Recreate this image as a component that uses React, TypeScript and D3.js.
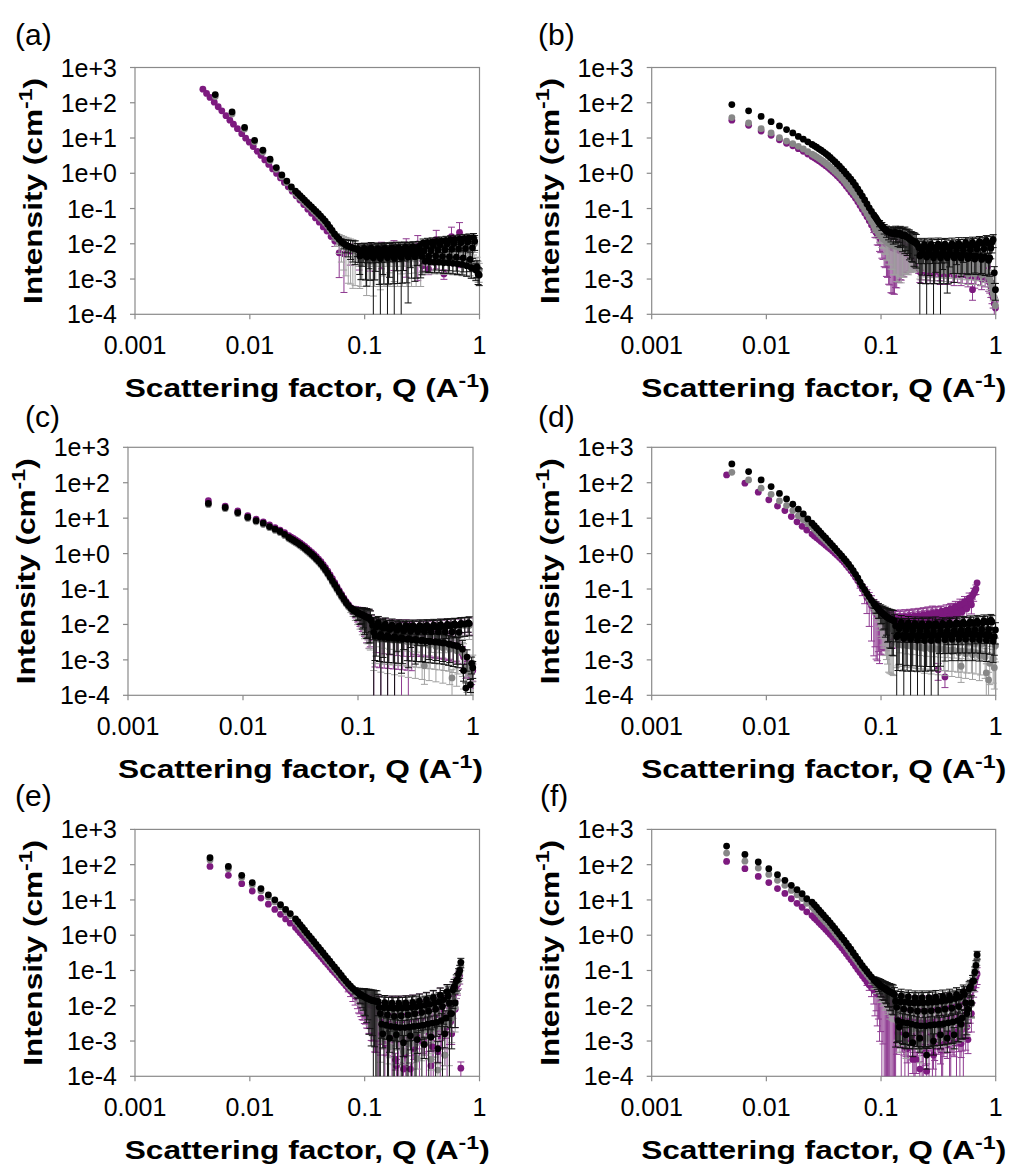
import React from "react";
import * as d3 from "d3";

// ---------- Q grids ----------
const Q_LO_STD = [0.005, 0.007, 0.009, 0.011, 0.013, 0.015, 0.017, 0.019, 0.021, 0.023];
const Q_LO_SHIFT = [0.0045, 0.0065, 0.0085, 0.0105, 0.0125, 0.0145, 0.0165, 0.0185, 0.0205, 0.0225];
const Q_HI = [
  0.025, 0.0262, 0.0274, 0.0287, 0.03, 0.0314, 0.0329, 0.0345, 0.0361, 0.0378,
  0.0396, 0.0414, 0.0434, 0.0454, 0.0476, 0.0498, 0.0521, 0.0546, 0.0572, 0.0599,
  0.0627, 0.0656, 0.0687, 0.072, 0.0754, 0.0789, 0.0826, 0.0865, 0.0906, 0.0949,
  0.0994, 0.104, 0.109, 0.114, 0.119, 0.125, 0.131, 0.137, 0.144, 0.15,
  0.158, 0.165, 0.173, 0.181, 0.189, 0.198, 0.208, 0.218, 0.228, 0.239,
  0.25, 0.262, 0.274, 0.287, 0.3, 0.315, 0.33, 0.345, 0.361, 0.378,
  0.396, 0.415, 0.434, 0.455, 0.476, 0.499, 0.522, 0.547, 0.573, 0.6,
  0.628, 0.657, 0.688, 0.721, 0.755, 0.79, 0.828, 0.867, 0.907, 0.95,
  0.995,
];
// extra, interleaved Q positions of the dense high-Q data
const Q_NOISE = [
  0.0885, 0.0927, 0.0971, 0.1017, 0.1065, 0.1115, 0.1165, 0.122, 0.128, 0.134,
  0.1405, 0.147, 0.154, 0.1615, 0.169, 0.177, 0.185, 0.1935, 0.203, 0.213,
  0.223, 0.2335, 0.2445, 0.256, 0.268, 0.2805, 0.2935, 0.3075, 0.3225, 0.3375,
  0.353, 0.3695, 0.387, 0.4055, 0.4245, 0.4445, 0.4655, 0.4875, 0.5105, 0.5345,
  0.56, 0.5865, 0.614, 0.6425, 0.6725, 0.7045, 0.738, 0.773, 0.809, 0.8475,
  0.887, 0.9285, 0.9725,
];
const Q_PURPLE_A = [
  0.0039, 0.0042, 0.0045, 0.0049, 0.0053, 0.0057, 0.0062, 0.0067, 0.0072, 0.0078,
  0.0085, 0.0092, 0.0099, 0.0107, 0.0116, 0.0125, 0.0135, 0.0146, 0.0158, 0.0171,
  0.0185, 0.02, 0.0216, 0.0234, 0.0253, 0.0273, 0.0295, 0.032, 0.0345, 0.0373,
  0.0403, 0.0436, 0.047, 0.051, 0.055, 0.06, 0.066, 0.075, 0.09, 0.11,
  0.14, 0.18, 0.23, 0.29, 0.32, 0.36, 0.42, 0.49, 0.57, 0.67,
];
const Q_STD = Q_LO_STD.concat(Q_HI);
const Q_SHIFT = Q_LO_SHIFT.concat(Q_HI);

// ---------- Panel (a) ----------
const A_PURPLE = [
  242, 184, 142, 104, 77, 59, 43, 32, 24.7, 18.4,
  13.3, 9.9, 7.6, 5.7, 4.2, 3.2, 2.39, 1.78, 1.33, 0.99,
  0.74, 0.55, 0.415, 0.31, 0.23, 0.174, 0.13, 0.096, 0.073, 0.054,
  0.041, 0.03, 0.023, 0.016, 0.012, 0.0055, 0.0052, 0.0062, 0.006, 0.006,
  0.0065, 0.007, 0.0075, 0.009, 0.0024, 0.0019, 0.013, 0.0014, 0.016, 0.021,
];
const A_PURPLE_ERR = [
  0, 0, 0, 0, 0, 0, 0, 0, 0, 0,
  0, 0, 0, 0, 0, 0, 0, 0, 0, 0,
  0, 0, 0, 0, 0, 0, 0, 0, 0, 0,
  0, 0, 0, 0.1, 0.3, 0.8, 0.92, 0.6, 0.7, 0.72,
  0.7, 0.75, 0.85, 0.9, 0.3, 0.3, 0.85, 0.3, 0.85, 0.9,
];
const A_GRAY_LO = [150, 48, 18, 7.8, 4.0, 2.25, 1.3, 0.8, 0.54, 0.37];
const A_GRAY_HI = [
  0.27, 0.235, 0.203, 0.176, 0.151, 0.131, 0.113, 0.098, 0.084, 0.073,
  0.062, 0.053, 0.045, 0.038, 0.032, 0.026, 0.021, 0.017, 0.014, 0.0118,
  0.0101, 0.009, 0.0082, 0.0076, 0.0072, 0.0068, 0.0065, 0.0064, 0.0036, 0.005,
  0.0065, 0.0034, 0.0049, 0.0066, 0.0033, 0.0048, 0.0065, 0.0033, 0.0049, 0.0066,
  0.0034, 0.005, 0.0067, 0.0034, 0.005, 0.0068, 0.0035, 0.0051, 0.007, 0.0036,
  0.0052, 0.0072, 0.0037, 0.0053, 0.0074, 0.0038, 0.0055, 0.0077, 0.0038, 0.0056,
  0.008, 0.0039, 0.0058, 0.0083, 0.0038, 0.006, 0.0087, 0.0037, 0.0062, 0.009,
  0.0036, 0.0064, 0.0094, 0.0034, 0.0066, 0.0098, 0.0031, 0.0068, 0.0103, 0.0026,
  0.0018,
];
const A_GRAY_ERR = [
  0, 0, 0, 0, 0, 0, 0, 0, 0, 0,
  0, 0, 0, 0, 0, 0, 0.15, 0.25, 0.4, 0.55,
  0.7, 0.8, 0.85, 0.9, 0.9, 0.92, 0.9, 0.6, 0.85, 0.8,
  0.6, 0.9, 0.8, 0.6, 0.9, 0.8, 0.55, 0.85, 0.75, 0.5,
  0.8, 0.7, 0.5, 0.75, 0.65, 0.45, 0.6, 0.55, 0.45, 0.6,
  0.55, 0.45, 0.6, 0.55, 0.45, 0.6, 0.55, 0.45, 0.6, 0.55,
  0.45, 0.6, 0.55, 0.45, 0.6, 0.55, 0.45, 0.6, 0.55, 0.45,
  0.6, 0.55, 0.45, 0.6, 0.55, 0.45, 0.6, 0.55, 0.45, 0.6,
  0.55,
];
const A_GRAY_NV = [
  0.0057, 0.0041, 0.0057, 0.0041, 0.0057, 0.0041, 0.0057, 0.0041, 0.0057, 0.0041,
  0.0057, 0.0041, 0.0057, 0.0041, 0.0057, 0.0041, 0.0057, 0.0041, 0.0057, 0.0041,
  0.0058, 0.0041, 0.0058, 0.0041, 0.0059, 0.0041, 0.0059, 0.0041, 0.0075, 0.0035,
  0.0076, 0.0035, 0.0078, 0.0035, 0.008, 0.0035, 0.0082, 0.0034, 0.0084, 0.0034,
  0.0086, 0.0033, 0.0088, 0.0032, 0.009, 0.0031, 0.0092, 0.003, 0.0094, 0.0028,
  0.0096, 0.0025, 0.002,
];
const A_GRAY_NE = [
  0.6, 0.85, 0.6, 0.85, 0.6, 0.85, 0.6, 0.85, 0.6, 0.85,
  0.6, 0.85, 0.6, 0.85, 0.6, 0.85, 0.6, 0.85, 0.6, 0.85,
  0.6, 0.85, 0.6, 0.85, 0.6, 0.85, 0.6, 0.85, 0.5, 0.6,
  0.5, 0.6, 0.5, 0.6, 0.5, 0.6, 0.5, 0.6, 0.5, 0.6,
  0.5, 0.6, 0.5, 0.6, 0.5, 0.6, 0.5, 0.6, 0.5, 0.6,
  0.5, 0.6, 0.6,
];
const A_BLACK_LO = [171, 55, 20, 8.6, 4.5, 2.5, 1.45, 0.9, 0.6, 0.41];
const A_BLACK_HI = [
  0.31, 0.268, 0.231, 0.2, 0.172, 0.149, 0.128, 0.111, 0.096, 0.083,
  0.071, 0.061, 0.052, 0.044, 0.036, 0.029, 0.024, 0.019, 0.016, 0.0135,
  0.0115, 0.0102, 0.0092, 0.0085, 0.008, 0.0076, 0.0073, 0.0072, 0.0045, 0.0058,
  0.0074, 0.0042, 0.0056, 0.0075, 0.004, 0.0055, 0.0073, 0.0038, 0.0054, 0.0074,
  0.004, 0.0056, 0.0076, 0.0039, 0.0057, 0.0077, 0.0041, 0.0058, 0.0079, 0.0042,
  0.006, 0.0081, 0.0043, 0.0061, 0.0084, 0.0044, 0.0063, 0.0087, 0.0044, 0.0064,
  0.009, 0.0045, 0.0066, 0.0094, 0.0044, 0.0068, 0.0098, 0.0043, 0.007, 0.0102,
  0.0042, 0.0072, 0.0107, 0.004, 0.0074, 0.0112, 0.0036, 0.0077, 0.0118, 0.0022,
  0.0013,
];
const A_BLACK_ERR = [
  0, 0, 0, 0, 0, 0, 0, 0, 0, 0,
  0, 0, 0, 0, 0, 0, 0, 0, 0.1, 0.15,
  0.2, 0.3, 0.4, 0.5, 0.55, 0.6, 0.65, 0.4, 0.7, 0.6,
  0.4, 0.85, 0.65, 0.45, 1.05, 0.7, 0.45, 1.1, 0.75, 0.45,
  1.05, 0.8, 0.45, 1.1, 0.7, 0.45, 1.0, 0.7, 0.4, 0.95,
  0.65, 0.4, 0.8, 0.6, 0.4, 0.7, 0.55, 0.4, 0.65, 0.55,
  0.4, 0.6, 0.5, 0.4, 0.6, 0.5, 0.4, 0.6, 0.5, 0.4,
  0.6, 0.5, 0.45, 0.6, 0.5, 0.45, 0.55, 0.5, 0.45, 0.5,
  0.5,
];
const A_BLACK_NV = [
  0.0066, 0.0048, 0.0065, 0.0047, 0.0064, 0.0046, 0.0064, 0.0047, 0.0065, 0.0047,
  0.0066, 0.0048, 0.0067, 0.0048, 0.0068, 0.0049, 0.0069, 0.005, 0.007, 0.0051,
  0.0072, 0.0052, 0.0073, 0.0053, 0.0075, 0.0053, 0.0077, 0.0054, 0.0105, 0.0032,
  0.011, 0.0031, 0.0113, 0.003, 0.0117, 0.003, 0.012, 0.0029, 0.0125, 0.0029,
  0.013, 0.0028, 0.0134, 0.0027, 0.0138, 0.0026, 0.0142, 0.0024, 0.0146, 0.0021,
  0.015, 0.0018, 0.0014,
];
const A_BLACK_NE = [
  0.55, 0.8, 0.55, 0.8, 0.55, 0.8, 0.55, 0.8, 0.55, 0.85,
  0.55, 0.85, 0.55, 0.85, 0.55, 0.85, 0.55, 0.85, 0.55, 0.85,
  0.55, 0.85, 0.5, 0.8, 0.5, 0.8, 0.5, 0.8, 0.3, 0.5,
  0.3, 0.5, 0.3, 0.5, 0.3, 0.5, 0.3, 0.5, 0.3, 0.5,
  0.3, 0.5, 0.3, 0.5, 0.3, 0.5, 0.3, 0.5, 0.3, 0.5,
  0.3, 0.5, 0.5,
];

// ---------- Panel (b) ----------
const B_PURPLE_LO = [32, 23, 15.8, 11.9, 8.9, 7.1, 6.0, 5.0, 4.2, 3.5];
const B_PURPLE_HI = [
  3.0, 2.75, 2.5, 2.27, 2.05, 1.84, 1.64, 1.45, 1.28, 1.12,
  0.98, 0.85, 0.73, 0.62, 0.52, 0.43, 0.36, 0.29, 0.24, 0.195,
  0.155, 0.122, 0.096, 0.075, 0.058, 0.045, 0.034, 0.026, 0.021, 0.0165,
  0.014, 0.012, 0.0105, 0.0093, 0.0085, 0.0079, 0.0074, 0.007, 0.0066, 0.0062,
  0.0058, 0.0054, 0.005, 0.0046, 0.0042, 0.0039, 0.0036, 0.0016, 0.0025, 0.0035,
  0.0015, 0.0024, 0.0034, 0.0015, 0.0024, 0.0034, 0.0014, 0.0023, 0.0033, 0.0014,
  0.0023, 0.0033, 0.0013, 0.0022, 0.0032, 0.0013, 0.0022, 0.0032, 0.0012, 0.0021,
  0.0005, 0.0011, 0.002, 0.003, 0.001, 0.0019, 0.003, 0.0009, 0.0006, 0.0003,
  0.00015,
];
const B_PURPLE_ERR = [
  0, 0, 0, 0, 0, 0, 0, 0, 0, 0,
  0, 0, 0, 0, 0, 0, 0, 0, 0, 0,
  0, 0, 0, 0, 0, 0, 0.12, 0.2, 0.3, 0.45,
  0.6, 0.7, 0.8, 0.88, 0.92, 0.95, 0.95, 0.92, 0.88, 0.85,
  0.8, 0.75, 0.7, 0.65, 0.6, 0.55, 0.5, 0.5, 0.5, 0.5,
  0.5, 0.5, 0.5, 0.5, 0.5, 0.5, 0.5, 0.5, 0.5, 0.5,
  0.5, 0.5, 0.5, 0.5, 0.5, 0.5, 0.5, 0.5, 0.5, 0.5,
  0.5, 0.5, 0.5, 0.5, 0.5, 0.5, 0.5, 0.5, 0.5, 0.5,
  0.5,
];
const B_PURPLE_NV = [
  0.0234, 0.0186, 0.0152, 0.013, 0.0112, 0.0099, 0.0089, 0.0082, 0.0076, 0.0072,
  0.0068, 0.0064, 0.006, 0.0056, 0.0052, 0.0048, 0.0044, 0.004, 0.0037, 0.0029,
  0.0019, 0.0029, 0.0019, 0.0028, 0.0018, 0.0028, 0.0018, 0.0028, 0.0018, 0.0027,
  0.0017, 0.0027, 0.0017, 0.0027, 0.0016, 0.0026, 0.0016, 0.0026, 0.0015, 0.0026,
  0.0015, 0.0025, 0.0014, 0.0025, 0.0014, 0.0024, 0.0013, 0.0024, 0.0012, 0.0022,
  0.0008, 0.0004, 0.0002,
];
const B_PURPLE_NE = [
  0.35, 0.5, 0.6, 0.7, 0.8, 0.88, 0.92, 0.95, 0.95, 0.92,
  0.88, 0.85, 0.8, 0.75, 0.7, 0.65, 0.6, 0.55, 0.5, 0.5,
  0.5, 0.5, 0.5, 0.5, 0.5, 0.5, 0.5, 0.5, 0.5, 0.5,
  0.5, 0.5, 0.5, 0.5, 0.5, 0.5, 0.5, 0.5, 0.5, 0.5,
  0.5, 0.5, 0.5, 0.5, 0.5, 0.5, 0.5, 0.5, 0.5, 0.5,
  0.5, 0.5, 0.5,
];
const B_GRAY_LO = [38, 26.7, 18.4, 13.9, 10.2, 8.2, 6.9, 5.8, 4.9, 4.1];
const B_GRAY_HI = [
  3.5, 3.2, 2.93, 2.65, 2.4, 2.16, 1.93, 1.7, 1.5, 1.32,
  1.15, 1.0, 0.86, 0.74, 0.62, 0.51, 0.42, 0.35, 0.29, 0.235,
  0.19, 0.15, 0.118, 0.092, 0.071, 0.055, 0.042, 0.033, 0.026, 0.02,
  0.017, 0.0145, 0.0125, 0.011, 0.01, 0.0093, 0.0088, 0.0085, 0.008, 0.0078,
  0.0075, 0.007, 0.0066, 0.0062, 0.0058, 0.0052, 0.0045, 0.002, 0.003, 0.0043,
  0.0019, 0.0029, 0.0042, 0.0018, 0.0028, 0.0041, 0.0017, 0.0028, 0.0041, 0.0017,
  0.0027, 0.004, 0.0016, 0.0027, 0.004, 0.0015, 0.0026, 0.004, 0.0014, 0.0026,
  0.0041, 0.0014, 0.0026, 0.0042, 0.0013, 0.0025, 0.0042, 0.0012, 0.0008, 0.0004,
  0.00018,
];
const B_GRAY_ERR = [
  0, 0, 0, 0, 0, 0, 0, 0, 0, 0,
  0, 0, 0, 0, 0, 0, 0, 0, 0, 0,
  0, 0, 0, 0, 0, 0, 0.1, 0.15, 0.2, 0.3,
  0.4, 0.5, 0.6, 0.7, 0.75, 0.8, 0.85, 0.9, 0.85, 0.9,
  0.85, 0.8, 0.8, 0.75, 0.7, 0.7, 0.4, 0.5, 0.45, 0.4,
  0.5, 0.45, 0.4, 0.5, 0.45, 0.4, 0.5, 0.45, 0.4, 0.5,
  0.45, 0.4, 0.5, 0.45, 0.4, 0.5, 0.45, 0.4, 0.5, 0.45,
  0.4, 0.5, 0.45, 0.4, 0.5, 0.45, 0.4, 0.5, 0.45, 0.4,
  0.5,
];
const B_GRAY_NV = [
  0.029, 0.0228, 0.0184, 0.0157, 0.0135, 0.0117, 0.0105, 0.0096, 0.009, 0.0086,
  0.0082, 0.0079, 0.0076, 0.0072, 0.0068, 0.0064, 0.006, 0.0055, 0.0048, 0.0036,
  0.0023, 0.0036, 0.0023, 0.0035, 0.0022, 0.0035, 0.0022, 0.0035, 0.0022, 0.0034,
  0.0021, 0.0034, 0.0021, 0.0034, 0.0021, 0.0034, 0.002, 0.0034, 0.002, 0.0034,
  0.0019, 0.0035, 0.0019, 0.0035, 0.0018, 0.0035, 0.0018, 0.0034, 0.0016, 0.0028,
  0.001, 0.0006, 0.0003,
];
const B_GRAY_NE = [
  0.2, 0.3, 0.4, 0.5, 0.6, 0.7, 0.75, 0.8, 0.85, 0.85,
  0.9, 0.85, 0.85, 0.8, 0.8, 0.75, 0.7, 0.7, 0.6, 0.45,
  0.5, 0.45, 0.5, 0.45, 0.5, 0.45, 0.5, 0.45, 0.5, 0.45,
  0.5, 0.45, 0.5, 0.45, 0.5, 0.45, 0.5, 0.45, 0.5, 0.45,
  0.5, 0.45, 0.5, 0.45, 0.5, 0.45, 0.5, 0.45, 0.5, 0.45,
  0.5, 0.45, 0.5,
];
const B_BLACK_LO = [89, 59, 41, 29, 22, 17.3, 13.9, 11.1, 9.3, 7.8];
const B_BLACK_HI = [
  6.6, 6.0, 5.5, 4.95, 4.5, 4.05, 3.62, 3.2, 2.8, 2.45,
  2.12, 1.83, 1.58, 1.35, 1.14, 0.96, 0.81, 0.68, 0.56, 0.45,
  0.36, 0.285, 0.225, 0.175, 0.135, 0.105, 0.083, 0.066, 0.053, 0.042,
  0.035, 0.029, 0.025, 0.022, 0.021, 0.02, 0.0205, 0.019, 0.02, 0.018,
  0.018, 0.016, 0.015, 0.013, 0.012, 0.011, 0.0095, 0.0045, 0.0065, 0.0095,
  0.0042, 0.0063, 0.0096, 0.004, 0.0062, 0.0097, 0.004, 0.0062, 0.0098, 0.004,
  0.0063, 0.01, 0.004, 0.0064, 0.0103, 0.0039, 0.0066, 0.0107, 0.0038, 0.0068,
  0.011, 0.0037, 0.007, 0.0115, 0.0036, 0.0072, 0.0122, 0.0034, 0.0075, 0.013,
  0.0005,
];
const B_BLACK_ERR = [
  0, 0, 0, 0, 0, 0, 0, 0, 0, 0,
  0, 0, 0, 0, 0, 0, 0, 0, 0, 0,
  0, 0, 0, 0, 0, 0, 0, 0, 0, 0,
  0.06, 0.1, 0.15, 0.2, 0.25, 0.3, 0.35, 0.4, 0.45, 0.5,
  0.55, 0.6, 0.65, 0.7, 0.75, 0.8, 0.5, 1.05, 0.8, 0.5,
  1.1, 0.8, 0.5, 1.05, 0.75, 0.5, 1.0, 0.7, 0.45, 0.9,
  0.65, 0.45, 0.8, 0.6, 0.45, 0.7, 0.55, 0.4, 0.65, 0.5,
  0.4, 0.6, 0.5, 0.4, 0.6, 0.5, 0.4, 0.6, 0.5, 0.4,
  0.5,
];
const B_BLACK_NV = [
  0.059, 0.047, 0.038, 0.032, 0.027, 0.0235, 0.0215, 0.0205, 0.0195, 0.021,
  0.0185, 0.0195, 0.017, 0.0175, 0.0155, 0.014, 0.0125, 0.0115, 0.0102, 0.0078,
  0.005, 0.0078, 0.0049, 0.0078, 0.0049, 0.0079, 0.0049, 0.008, 0.0049, 0.0081,
  0.0049, 0.0082, 0.0049, 0.0084, 0.0048, 0.0086, 0.0048, 0.0088, 0.0047, 0.009,
  0.0047, 0.0092, 0.0046, 0.0095, 0.0045, 0.0098, 0.0044, 0.0102, 0.0042, 0.0106,
  0.004, 0.011, 0.0015,
];
const B_BLACK_NE = [
  0.1, 0.15, 0.2, 0.25, 0.3, 0.35, 0.4, 0.45, 0.5, 0.5,
  0.55, 0.6, 0.65, 0.7, 0.7, 0.75, 0.75, 0.8, 0.8, 0.65,
  0.85, 0.65, 0.85, 0.65, 0.85, 0.65, 0.85, 0.65, 0.85, 0.65,
  0.85, 0.65, 0.85, 0.5, 0.7, 0.5, 0.7, 0.5, 0.7, 0.5,
  0.7, 0.5, 0.7, 0.5, 0.7, 0.5, 0.7, 0.5, 0.7, 0.5,
  0.7, 0.5, 0.5,
];

// ---------- Panel (c) ----------
const C_PURPLE_LO = [31, 22, 16, 11.8, 9.4, 7.9, 6.4, 5.4, 4.6, 3.9];
const C_PURPLE_HI = [
  3.2, 2.92, 2.67, 2.43, 2.22, 2.0, 1.8, 1.6, 1.41, 1.24,
  1.08, 0.95, 0.82, 0.7, 0.59, 0.49, 0.4, 0.32, 0.25, 0.195,
  0.152, 0.117, 0.09, 0.07, 0.055, 0.044, 0.036, 0.03, 0.026, 0.0235,
  0.0212, 0.0195, 0.018, 0.0165, 0.0152, 0.0142, 0.012, 0.0055, 0.008, 0.0108,
  0.005, 0.0074, 0.0098, 0.0046, 0.0069, 0.0092, 0.0043, 0.0066, 0.009, 0.004,
  0.0063, 0.009, 0.0038, 0.0062, 0.009, 0.0036, 0.0061, 0.0091, 0.0034, 0.006,
  0.0092, 0.0032, 0.006, 0.0094, 0.003, 0.006, 0.0096, 0.0028, 0.006, 0.0098,
  0.0026, 0.0059, 0.0101, 0.0023, 0.0058, 0.0105, 0.0012, 0.0006, 0.0108, 0.0004,
  0.0005,
];
const C_PURPLE_ERR = [
  0, 0, 0, 0, 0, 0, 0, 0, 0, 0,
  0, 0, 0, 0, 0, 0, 0, 0, 0, 0,
  0, 0, 0, 0, 0, 0, 0.1, 0.15, 0.25, 0.35,
  0.45, 0.55, 0.65, 0.72, 0.8, 0.85, 0.5, 1.05, 0.8, 0.5,
  1.05, 0.8, 0.5, 1.05, 0.8, 0.5, 1.05, 0.8, 0.5, 1.05,
  0.8, 0.5, 1.05, 0.8, 0.45, 0.6, 0.5, 0.45, 0.6, 0.5,
  0.45, 0.6, 0.5, 0.45, 0.6, 0.5, 0.45, 0.6, 0.5, 0.45,
  0.6, 0.5, 0.45, 0.6, 0.5, 0.45, 0.6, 0.5, 0.45, 0.6,
  0.5,
];
const C_PURPLE_NV = [
  0.028, 0.0247, 0.0223, 0.0203, 0.0187, 0.0172, 0.0158, 0.0147, 0.013, 0.0088,
  0.0042, 0.0085, 0.004, 0.0082, 0.0039, 0.008, 0.0038, 0.0079, 0.0037, 0.0078,
  0.0036, 0.0078, 0.0035, 0.0079, 0.0034, 0.008, 0.0033, 0.008, 0.0032, 0.0081,
  0.0031, 0.0082, 0.003, 0.0083, 0.0029, 0.0084, 0.0028, 0.0086, 0.0027, 0.0088,
  0.0026, 0.009, 0.0024, 0.0092, 0.0022, 0.0094, 0.002, 0.0096, 0.0015, 0.0098,
  0.0008, 0.01, 0.0005,
];
const C_PURPLE_NE = [
  0.12, 0.2, 0.3, 0.4, 0.5, 0.6, 0.68, 0.75, 0.82, 0.6,
  0.85, 0.6, 0.85, 0.6, 0.85, 0.6, 0.85, 0.6, 0.85, 0.6,
  0.85, 0.6, 0.85, 0.6, 0.85, 0.6, 0.85, 0.5, 0.6, 0.5,
  0.6, 0.5, 0.6, 0.5, 0.6, 0.5, 0.6, 0.5, 0.6, 0.5,
  0.6, 0.5, 0.6, 0.5, 0.6, 0.5, 0.6, 0.5, 0.6, 0.5,
  0.6, 0.5, 0.6,
];
const C_GRAY_LO = [24, 18.5, 13.4, 9.8, 7.9, 6.6, 5.4, 4.5, 3.9, 3.2];
const C_GRAY_HI = [
  2.62, 2.4, 2.19, 2.0, 1.82, 1.64, 1.47, 1.31, 1.15, 1.01,
  0.88, 0.77, 0.66, 0.57, 0.48, 0.395, 0.32, 0.255, 0.2, 0.155,
  0.123, 0.096, 0.075, 0.059, 0.047, 0.038, 0.031, 0.027, 0.024, 0.0215,
  0.0198, 0.0184, 0.017, 0.0158, 0.0147, 0.0138, 0.0115, 0.005, 0.0078, 0.0103,
  0.0045, 0.0071, 0.0094, 0.0041, 0.0066, 0.0088, 0.0038, 0.0062, 0.0086, 0.0035,
  0.0059, 0.0085, 0.0032, 0.0057, 0.0085, 0.003, 0.0055, 0.0085, 0.0028, 0.00068,
  0.0086, 0.0026, 0.0054, 0.0088, 0.0024, 0.0053, 0.009, 0.0022, 0.0053, 0.0092,
  0.002, 0.00031, 0.0095, 0.0018, 0.0052, 0.0098, 0.0015, 0.0005, 0.01, 0.0004,
  0.0008,
];
const C_GRAY_ERR = [
  0, 0, 0, 0, 0, 0, 0, 0, 0, 0,
  0, 0, 0, 0, 0, 0, 0, 0, 0, 0,
  0, 0, 0, 0, 0, 0, 0.12, 0.2, 0.3, 0.4,
  0.5, 0.6, 0.7, 0.75, 0.8, 0.85, 0.5, 0.9, 0.7, 0.5,
  0.9, 0.7, 0.5, 0.9, 0.7, 0.5, 0.9, 0.7, 0.5, 0.9,
  0.7, 0.5, 0.9, 0.7, 0.5, 0.9, 0.7, 0.5, 0.9, 0.7,
  0.5, 0.9, 0.7, 0.5, 0.9, 0.7, 0.5, 0.9, 0.7, 0.5,
  0.9, 0.7, 0.5, 0.9, 0.7, 0.5, 0.9, 0.7, 0.5, 0.9,
  0.7,
];
const C_GRAY_NV = [
  0.0255, 0.0227, 0.0206, 0.0191, 0.0177, 0.0164, 0.0152, 0.0142, 0.0126, 0.0082,
  0.004, 0.008, 0.0039, 0.0079, 0.0038, 0.0078, 0.0037, 0.0078, 0.0036, 0.0078,
  0.0035, 0.0079, 0.0034, 0.008, 0.0033, 0.008, 0.0032, 0.0081, 0.0031, 0.0082,
  0.003, 0.0083, 0.0029, 0.0084, 0.0028, 0.0085, 0.0027, 0.0086, 0.0026, 0.0087,
  0.0025, 0.0088, 0.0024, 0.009, 0.0022, 0.0091, 0.002, 0.0092, 0.0017, 0.0093,
  0.0006, 0.0094, 0.0005,
];
const C_GRAY_NE = [
  0.15, 0.25, 0.35, 0.45, 0.55, 0.65, 0.72, 0.8, 0.85, 0.6,
  0.8, 0.6, 0.8, 0.6, 0.8, 0.6, 0.8, 0.6, 0.8, 0.6,
  0.8, 0.6, 0.8, 0.6, 0.8, 0.6, 0.8, 0.6, 0.8, 0.6,
  0.8, 0.6, 0.8, 0.6, 0.8, 0.6, 0.8, 0.6, 0.8, 0.6,
  0.8, 0.6, 0.8, 0.6, 0.8, 0.6, 0.8, 0.6, 0.8, 0.6,
  0.8, 0.6, 0.8,
];
const C_BLACK_LO = [26, 20, 14.4, 10.6, 8.5, 7.2, 5.8, 4.9, 4.2, 3.5];
const C_BLACK_HI = [
  2.85, 2.6, 2.38, 2.17, 1.98, 1.78, 1.6, 1.42, 1.25, 1.1,
  0.96, 0.84, 0.72, 0.62, 0.52, 0.43, 0.35, 0.28, 0.22, 0.17,
  0.135, 0.105, 0.082, 0.065, 0.051, 0.041, 0.034, 0.029, 0.026, 0.0235,
  0.0215, 0.02, 0.0185, 0.0172, 0.016, 0.015, 0.0125, 0.006, 0.0085, 0.0112,
  0.0052, 0.0078, 0.0102, 0.0048, 0.0072, 0.0095, 0.0045, 0.0068, 0.0093, 0.0042,
  0.0065, 0.0092, 0.004, 0.0064, 0.0092, 0.0038, 0.0063, 0.0093, 0.0036, 0.0063,
  0.0094, 0.0034, 0.0062, 0.0096, 0.0032, 0.0062, 0.0098, 0.003, 0.0062, 0.01,
  0.0028, 0.0062, 0.0103, 0.0025, 0.006, 0.0107, 0.0005, 0.00016, 0.011, 0.0002,
  0.0006,
];
const C_BLACK_ERR = [
  0, 0, 0, 0, 0, 0, 0, 0, 0, 0,
  0, 0, 0, 0, 0, 0, 0, 0, 0, 0,
  0, 0, 0, 0, 0, 0, 0.1, 0.15, 0.2, 0.3,
  0.4, 0.5, 0.6, 0.7, 0.75, 0.8, 0.5, 1.05, 0.85, 0.5,
  1.1, 0.85, 0.5, 1.05, 0.8, 0.5, 1.0, 0.75, 0.45, 0.9,
  0.7, 0.45, 0.85, 0.65, 0.45, 0.8, 0.6, 0.45, 0.75, 0.6,
  0.45, 0.7, 0.55, 0.45, 0.7, 0.55, 0.45, 0.7, 0.55, 0.45,
  0.7, 0.55, 0.45, 0.7, 0.55, 0.45, 0.5, 0.4, 0.45, 0.4,
  0.5,
];
const C_BLACK_NV = [
  0.0275, 0.0247, 0.0225, 0.0207, 0.0192, 0.0178, 0.0166, 0.0155, 0.0137, 0.0095,
  0.0048, 0.009, 0.0045, 0.0085, 0.0043, 0.0082, 0.0042, 0.008, 0.0041, 0.0079,
  0.004, 0.0078, 0.0039, 0.0078, 0.0038, 0.0079, 0.0037, 0.008, 0.0036, 0.008,
  0.0035, 0.0081, 0.0034, 0.0082, 0.0033, 0.0083, 0.0032, 0.0085, 0.0031, 0.0087,
  0.003, 0.0089, 0.0028, 0.0092, 0.0026, 0.0095, 0.0024, 0.0098, 0.002, 0.0102,
  0.0012, 0.0106, 0.0008,
];
const C_BLACK_NE = [
  0.12, 0.2, 0.25, 0.35, 0.45, 0.55, 0.65, 0.72, 0.78, 0.6,
  0.8, 0.6, 0.8, 0.6, 0.8, 0.6, 0.8, 0.6, 0.8, 0.6,
  0.8, 0.6, 0.8, 0.55, 0.75, 0.55, 0.75, 0.55, 0.75, 0.55,
  0.75, 0.55, 0.75, 0.55, 0.75, 0.55, 0.75, 0.55, 0.75, 0.55,
  0.75, 0.55, 0.75, 0.55, 0.75, 0.55, 0.75, 0.55, 0.75, 0.55,
  0.6, 0.55, 0.5,
];

// ---------- Panel (d) ----------
const D_PURPLE_LO = [166, 97, 54, 33, 22, 16.4, 11.1, 7.9, 5.9, 4.6];
const D_PURPLE_HI = [
  3.55, 3.15, 2.8, 2.48, 2.2, 1.95, 1.72, 1.52, 1.34, 1.18,
  1.03, 0.9, 0.78, 0.67, 0.57, 0.48, 0.4, 0.33, 0.27, 0.215,
  0.17, 0.132, 0.1, 0.077, 0.058, 0.044, 0.034, 0.026, 0.021, 0.017,
  0.0145, 0.013, 0.0122, 0.0118, 0.0125, 0.0105, 0.0135, 0.011, 0.0138, 0.0112,
  0.014, 0.0115, 0.0145, 0.012, 0.015, 0.0125, 0.0158, 0.013, 0.0165, 0.0135,
  0.0172, 0.014, 0.018, 0.015, 0.019, 0.00053, 0.021, 0.017, 0.00033, 0.019,
  0.025, 0.021, 0.028, 0.024, 0.032, 0.028, 0.038, 0.034, 0.048, 0.045,
  0.065, 0.085, 0.15,
];
const D_PURPLE_ERR = [
  0, 0, 0, 0, 0, 0, 0, 0, 0, 0,
  0, 0, 0, 0, 0, 0, 0, 0, 0, 0,
  0.1, 0.2, 0.35, 0.5, 0.65, 0.8, 0.9, 0.95, 0.95, 0.9,
  0.9, 0.85, 0.85, 0.8, 0.7, 0.8, 0.7, 0.8, 0.7, 0.8,
  0.7, 0.8, 0.7, 0.8, 0.7, 0.8, 0.7, 0.8, 0.7, 0.8,
  0.7, 0.8, 0.7, 0.8, 0.7, 0.5, 0.55, 0.5, 0.5, 0.5,
  0.45, 0.45, 0.4, 0.4, 0.35, 0.35, 0.3, 0.3, 0.25, 0.25,
  0.2, 0.2, 0.15,
];
const D_PURPLE_NV = [
  0.0234, 0.0189, 0.0157, 0.0137, 0.0126, 0.012, 0.0121, 0.0155, 0.0095, 0.0157,
  0.0097, 0.016, 0.0099, 0.0163, 0.01, 0.0167, 0.0103, 0.0172, 0.0107, 0.0178,
  0.011, 0.0185, 0.0116, 0.0195, 0.0122, 0.0206, 0.013, 0.022, 0.0138, 0.0236,
  0.0148, 0.0255, 0.016, 0.028, 0.0175, 0.032, 0.0198, 0.037, 0.023, 0.044,
  0.028, 0.055, 0.036, 0.075, 0.1,
];
const D_PURPLE_NE = [
  0.9, 0.95, 0.95, 0.9, 0.85, 0.85, 0.8, 0.6, 0.7, 0.6,
  0.7, 0.6, 0.7, 0.6, 0.7, 0.6, 0.7, 0.6, 0.7, 0.6,
  0.7, 0.6, 0.7, 0.6, 0.7, 0.6, 0.7, 0.4, 0.45, 0.4,
  0.45, 0.4, 0.45, 0.4, 0.45, 0.4, 0.45, 0.4, 0.45, 0.4,
  0.45, 0.4, 0.45, 0.4, 0.3,
];
const D_GRAY_LO = [197, 120, 70, 47, 30.7, 22.6, 16.4, 11.6, 9.0, 7.0];
const D_GRAY_HI = [
  5.7, 4.9, 4.2, 3.6, 3.1, 2.65, 2.3, 1.98, 1.72, 1.5,
  1.3, 1.12, 0.96, 0.82, 0.69, 0.57, 0.47, 0.385, 0.31, 0.25,
  0.195, 0.15, 0.115, 0.088, 0.067, 0.051, 0.039, 0.03, 0.024, 0.019,
  0.0155, 0.013, 0.011, 0.0095, 0.0085, 0.0077, 0.0068, 0.003, 0.0045, 0.0062,
  0.0027, 0.0042, 0.0058, 0.0025, 0.004, 0.0056, 0.0023, 0.0038, 0.0055, 0.0021,
  0.0036, 0.0054, 0.002, 0.0035, 0.0053, 0.0019, 0.0034, 0.0052, 0.0018, 0.0033,
  0.0052, 0.0017, 0.0032, 0.0052, 0.0016, 0.00066, 0.0051, 0.0015, 0.003, 0.0051,
  0.0014, 0.0029, 0.005, 0.0013, 0.0028, 0.005, 0.00043, 0.00027, 0.0048, 0.0011,
  0.0025,
];
const D_GRAY_ERR = [
  0, 0, 0, 0, 0, 0, 0, 0, 0, 0,
  0, 0, 0, 0, 0, 0, 0, 0, 0, 0,
  0, 0, 0, 0, 0, 0, 0.15, 0.25, 0.4, 0.55,
  0.7, 0.8, 0.88, 0.92, 0.95, 0.95, 0.5, 0.8, 0.65, 0.5,
  0.8, 0.65, 0.5, 0.8, 0.65, 0.5, 0.8, 0.65, 0.5, 0.8,
  0.65, 0.5, 0.8, 0.65, 0.5, 0.8, 0.65, 0.5, 0.8, 0.65,
  0.5, 0.8, 0.65, 0.5, 0.8, 0.65, 0.5, 0.8, 0.65, 0.5,
  0.8, 0.65, 0.5, 0.8, 0.65, 0.5, 0.8, 0.65, 0.5, 0.8,
  0.65,
];
const D_GRAY_NV = [
  0.0268, 0.0214, 0.0172, 0.0142, 0.012, 0.0102, 0.009, 0.0081, 0.0072, 0.0052,
  0.0027, 0.005, 0.0026, 0.0049, 0.0025, 0.0048, 0.0024, 0.0047, 0.0023, 0.0046,
  0.0022, 0.0045, 0.0022, 0.0045, 0.0021, 0.0044, 0.0021, 0.0044, 0.002, 0.0043,
  0.002, 0.0043, 0.0019, 0.0042, 0.0019, 0.0042, 0.0018, 0.0041, 0.0018, 0.0041,
  0.0017, 0.004, 0.0017, 0.004, 0.0016, 0.0039, 0.0015, 0.0038, 0.0012, 0.0036,
  0.0008, 0.0034, 0.0006,
];
const D_GRAY_NE = [
  0.3, 0.45, 0.6, 0.72, 0.82, 0.9, 0.95, 0.95, 0.95, 0.55,
  0.75, 0.55, 0.75, 0.55, 0.75, 0.55, 0.75, 0.55, 0.75, 0.55,
  0.75, 0.55, 0.75, 0.55, 0.75, 0.55, 0.75, 0.55, 0.75, 0.55,
  0.75, 0.55, 0.75, 0.55, 0.75, 0.55, 0.75, 0.55, 0.75, 0.55,
  0.75, 0.55, 0.75, 0.55, 0.75, 0.55, 0.75, 0.55, 0.75, 0.55,
  0.75, 0.55, 0.75,
];
const D_BLACK_LO = [339, 206, 120, 78, 50, 35, 24.7, 17.9, 13.2, 9.5];
const D_BLACK_HI = [
  7.2, 6.1, 5.2, 4.45, 3.8, 3.23, 2.75, 2.33, 1.98, 1.68,
  1.42, 1.2, 1.02, 0.86, 0.72, 0.6, 0.5, 0.41, 0.33, 0.26,
  0.205, 0.155, 0.12, 0.095, 0.075, 0.06, 0.048, 0.039, 0.032, 0.027,
  0.023, 0.02, 0.0175, 0.0158, 0.0145, 0.0135, 0.0125, 0.0045, 0.0075, 0.0115,
  0.004, 0.007, 0.0108, 0.0038, 0.0068, 0.0105, 0.0036, 0.0066, 0.0104, 0.0035,
  0.0065, 0.0104, 0.0035, 0.0065, 0.0105, 0.0036, 0.0066, 0.0107, 0.0037, 0.0067,
  0.011, 0.0038, 0.0068, 0.0113, 0.0038, 0.0069, 0.0116, 0.0038, 0.007, 0.012,
  0.0038, 0.0071, 0.0124, 0.0037, 0.0072, 0.0128, 0.0036, 0.0072, 0.0132, 0.0034,
  0.007,
];
const D_BLACK_ERR = [
  0, 0, 0, 0, 0, 0, 0, 0, 0, 0,
  0, 0, 0, 0, 0, 0, 0, 0, 0, 0,
  0, 0, 0, 0, 0, 0, 0.15, 0.25, 0.35, 0.45,
  0.55, 0.65, 0.75, 0.8, 0.85, 0.9, 0.55, 1.1, 0.9, 0.55,
  1.1, 0.9, 0.55, 1.1, 0.9, 0.55, 1.1, 0.9, 0.55, 1.1,
  0.9, 0.55, 1.1, 0.9, 0.55, 1.1, 0.9, 0.45, 0.75, 0.6,
  0.45, 0.75, 0.6, 0.45, 0.75, 0.6, 0.45, 0.75, 0.6, 0.45,
  0.75, 0.6, 0.45, 0.75, 0.6, 0.45, 0.75, 0.6, 0.45, 0.75,
  0.6,
];
const D_BLACK_NV = [
  0.0353, 0.0294, 0.0249, 0.0214, 0.0187, 0.0166, 0.0151, 0.014, 0.013, 0.0092,
  0.005, 0.009, 0.0049, 0.0089, 0.0048, 0.0089, 0.0048, 0.0089, 0.0048, 0.009,
  0.0048, 0.009, 0.0048, 0.0091, 0.0049, 0.0092, 0.0049, 0.0093, 0.005, 0.0094,
  0.005, 0.0096, 0.0051, 0.0098, 0.0051, 0.01, 0.0052, 0.0102, 0.0052, 0.0104,
  0.0052, 0.0106, 0.0052, 0.0108, 0.0052, 0.011, 0.0051, 0.0112, 0.005, 0.0115,
  0.0048, 0.0118, 0.0045,
];
const D_BLACK_NE = [
  0.2, 0.3, 0.4, 0.5, 0.6, 0.7, 0.78, 0.85, 0.9, 0.65,
  0.9, 0.65, 0.9, 0.65, 0.9, 0.65, 0.9, 0.65, 0.9, 0.65,
  0.9, 0.65, 0.9, 0.65, 0.9, 0.65, 0.9, 0.5, 0.7, 0.5,
  0.7, 0.5, 0.7, 0.5, 0.7, 0.5, 0.7, 0.5, 0.7, 0.5,
  0.7, 0.5, 0.7, 0.5, 0.7, 0.5, 0.7, 0.5, 0.7, 0.5,
  0.7, 0.5, 0.7,
];

// ---------- Panel (e) ----------
const E_PURPLE_LO = [89, 50, 29, 17.8, 11.3, 7.6, 5.4, 3.9, 2.9, 2.2];
const E_PURPLE_HI = [
  1.66, 1.4, 1.18, 0.99, 0.83, 0.7, 0.59, 0.495, 0.415, 0.35,
  0.295, 0.248, 0.208, 0.175, 0.147, 0.124, 0.104, 0.088, 0.074, 0.062,
  0.052, 0.044, 0.037, 0.031, 0.026, 0.022, 0.019, 0.0165, 0.0148, 0.0135,
  0.0125, 0.0117, 0.011, 0.0104, 0.01, 0.0096, 0.0092, 0.004, 0.0012, 0.0089,
  0.0038, 0.0018, 0.0088, 0.0036, 0.0002, 0.0088, 0.0037, 0.00016, 0.009, 0.0038,
  0.00016, 0.0095, 0.004, 0.0012, 0.0102, 0.0045, 0.0008, 0.011, 0.005, 0.0002,
  0.0125, 0.0055, 0.0005, 0.015, 0.0065, 0.0004, 0.019, 0.008, 0.0016, 0.028,
  0.04, 0.06, 0.00017,
];
const E_PURPLE_ERR = [
  0, 0, 0, 0, 0, 0, 0, 0, 0, 0,
  0, 0, 0, 0, 0, 0, 0, 0, 0, 0,
  0, 0, 0, 0.2, 0.3, 0.4, 0.45, 0.5, 0.6, 0.7,
  0.75, 0.8, 0.85, 0.9, 0.9, 0.95, 1.1, 0.9, 0.5, 1.1,
  0.9, 0.5, 1.1, 0.9, 0.5, 1.1, 0.9, 0.5, 1.1, 0.9,
  0.5, 1.1, 0.9, 0.5, 1.1, 0.9, 0.5, 1.1, 0.9, 0.5,
  1.1, 0.9, 0.5, 1.1, 0.9, 0.5, 1.1, 0.9, 0.5, 0.7,
  0.6, 0.5, 0.5,
];
const E_PURPLE_NV = [
  0.0156, 0.0141, 0.013, 0.0121, 0.0113, 0.0107, 0.0102, 0.0098, 0.0094, 0.0066,
  0.0016, 0.0064, 0.0008, 0.0063, 0.0015, 0.0062, 0.0003, 0.0062, 0.0012, 0.0063,
  0.0004, 0.0065, 0.0014, 0.0067, 0.0006, 0.007, 0.0016, 0.0074, 0.0009, 0.0079,
  0.0018, 0.0085, 0.0007, 0.0094, 0.002, 0.0105, 0.0012, 0.012, 0.0024, 0.015,
  0.0035, 0.022, 0.008, 0.04, 0.075,
];
const E_PURPLE_NE = [
  0.6, 0.65, 0.7, 0.75, 0.8, 0.85, 0.9, 0.95, 0.95, 0.85,
  0.5, 0.85, 0.5, 0.85, 0.5, 0.85, 0.5, 0.85, 0.5, 0.85,
  0.5, 0.85, 0.5, 0.85, 0.5, 0.85, 0.5, 0.85, 0.5, 0.85,
  0.5, 0.85, 0.5, 0.85, 0.5, 0.85, 0.5, 0.85, 0.5, 0.85,
  0.5, 0.8, 0.7, 0.5, 0.45,
];
const E_GRAY_LO = [135, 77, 43, 27, 18, 12.2, 8.8, 6.4, 4.7, 3.6];
const E_GRAY_HI = [
  2.52, 2.1, 1.74, 1.45, 1.21, 1.0, 0.835, 0.695, 0.58, 0.48,
  0.4, 0.333, 0.277, 0.23, 0.19, 0.159, 0.132, 0.11, 0.091, 0.076,
  0.063, 0.052, 0.044, 0.037, 0.031, 0.027, 0.0235, 0.021, 0.019, 0.017,
  0.0158, 0.0145, 0.0136, 0.0128, 0.0122, 0.0118, 0.0112, 0.005, 0.0012, 0.0106,
  0.0045, 0.00067, 0.0102, 0.0042, 0.0011, 0.0102, 0.0043, 0.0005, 0.0105, 0.0046,
  0.0009, 0.011, 0.005, 0.00032, 0.012, 0.0055, 0.0008, 0.013, 0.006, 0.0003,
  0.015, 0.007, 0.00015, 0.018, 0.0032, 0.0004, 0.022, 0.004, 0.0045, 0.03,
  0.042, 0.07, 0.14,
];
const E_GRAY_ERR = [
  0, 0, 0, 0, 0, 0, 0, 0, 0, 0,
  0, 0, 0, 0, 0, 0, 0, 0, 0, 0,
  0, 0, 0, 0, 0, 0, 0.25, 0.35, 0.45, 0.55,
  0.65, 0.72, 0.8, 0.85, 0.9, 0.9, 0.7, 0.95, 0.5, 0.7,
  0.95, 0.5, 0.7, 0.95, 0.5, 0.7, 0.95, 0.5, 0.7, 0.95,
  0.5, 0.7, 0.95, 0.5, 0.7, 0.95, 0.5, 0.7, 0.95, 0.5,
  0.7, 0.95, 0.5, 0.7, 0.95, 0.5, 0.7, 0.95, 0.8, 0.5,
  0.45, 0.4, 0.3,
];
const E_GRAY_NV = [
  0.02, 0.018, 0.0164, 0.0151, 0.014, 0.0132, 0.0125, 0.012, 0.0115, 0.0078,
  0.0022, 0.0076, 0.002, 0.0075, 0.0018, 0.0074, 0.0017, 0.0074, 0.0016, 0.0075,
  0.0016, 0.0077, 0.0017, 0.0079, 0.0018, 0.0082, 0.0019, 0.0086, 0.002, 0.0091,
  0.0021, 0.0097, 0.0022, 0.0104, 0.0024, 0.0115, 0.0027, 0.013, 0.0032, 0.016,
  0.0045, 0.024, 0.009, 0.045, 0.085,
];
const E_GRAY_NE = [
  0.35, 0.45, 0.55, 0.65, 0.72, 0.8, 0.85, 0.9, 0.9, 0.85,
  0.6, 0.85, 0.6, 0.85, 0.6, 0.85, 0.6, 0.85, 0.6, 0.85,
  0.6, 0.85, 0.6, 0.85, 0.6, 0.85, 0.6, 0.85, 0.6, 0.85,
  0.6, 0.85, 0.6, 0.85, 0.6, 0.85, 0.6, 0.85, 0.6, 0.85,
  0.6, 0.7, 0.8, 0.5, 0.4,
];
const E_BLACK_LO = [157, 89, 50, 31, 21, 14, 10.1, 7.3, 5.4, 4.1];
const E_BLACK_HI = [
  2.9, 2.42, 2.0, 1.67, 1.39, 1.15, 0.96, 0.8, 0.665, 0.553,
  0.46, 0.383, 0.318, 0.265, 0.22, 0.183, 0.152, 0.126, 0.105, 0.087,
  0.072, 0.06, 0.05, 0.042, 0.036, 0.031, 0.027, 0.024, 0.0215, 0.0195,
  0.018, 0.0165, 0.0155, 0.0145, 0.014, 0.0135, 0.013, 0.006, 0.0016, 0.0122,
  0.0055, 0.0012, 0.0118, 0.005, 0.0015, 0.0118, 0.0052, 0.0009, 0.012, 0.0055,
  0.0014, 0.0125, 0.006, 0.0011, 0.0135, 0.0065, 0.0008, 0.015, 0.007, 0.0013,
  0.017, 0.008, 0.0006, 0.02, 0.0095, 0.0016, 0.025, 0.012, 0.006, 0.035,
  0.05, 0.08, 0.17,
];
const E_BLACK_ERR = [
  0, 0, 0, 0, 0, 0, 0, 0, 0, 0,
  0, 0, 0, 0, 0, 0, 0, 0, 0, 0,
  0, 0, 0, 0, 0, 0, 0.2, 0.3, 0.45, 0.55,
  0.7, 0.8, 0.9, 0.95, 1.0, 1.0, 0.6, 1.05, 0.6, 0.6,
  1.05, 0.6, 0.6, 1.05, 0.6, 0.6, 1.05, 0.6, 0.6, 1.05,
  0.6, 0.6, 1.05, 0.6, 0.6, 1.05, 0.6, 0.6, 1.05, 0.6,
  0.6, 1.05, 0.6, 0.6, 1.05, 0.6, 0.6, 1.05, 0.9, 0.6,
  0.5, 0.4, 0.3,
];
const E_BLACK_NV = [
  0.0227, 0.0205, 0.0187, 0.0172, 0.016, 0.015, 0.0142, 0.0137, 0.0132, 0.009,
  0.003, 0.0088, 0.0028, 0.0086, 0.0026, 0.0085, 0.0025, 0.0085, 0.0024, 0.0086,
  0.0024, 0.0088, 0.0025, 0.009, 0.0026, 0.0094, 0.0027, 0.0098, 0.0028, 0.0104,
  0.003, 0.011, 0.0032, 0.0118, 0.0034, 0.013, 0.0038, 0.015, 0.0045, 0.019,
  0.006, 0.028, 0.012, 0.055, 0.1,
];
const E_BLACK_NE = [
  0.3, 0.45, 0.6, 0.7, 0.75, 0.85, 0.9, 0.95, 1.0, 1.0,
  0.6, 1.0, 0.6, 1.0, 0.6, 1.0, 0.6, 1.0, 0.6, 1.0,
  0.6, 1.0, 0.6, 1.0, 0.6, 1.0, 0.6, 0.8, 0.6, 0.8,
  0.6, 0.8, 0.6, 0.8, 0.6, 0.8, 0.6, 0.8, 0.6, 0.8,
  0.6, 0.7, 0.8, 0.5, 0.4,
];

// ---------- Panel (f) ----------
const F_PURPLE_LO = [124, 77, 46.5, 31, 21, 15.3, 10.8, 8.0, 6.2, 4.6];
const F_PURPLE_HI = [
  3.6, 3.1, 2.68, 2.3, 1.98, 1.7, 1.45, 1.24, 1.05, 0.89,
  0.75, 0.63, 0.53, 0.44, 0.365, 0.3, 0.245, 0.2, 0.162, 0.132,
  0.107, 0.087, 0.071, 0.058, 0.047, 0.039, 0.033, 0.028, 0.024, 0.021,
  0.0185, 0.0165, 0.015, 0.0135, 0.0122, 0.011, 0.0098, 0.0042, 0.0016, 0.0092,
  0.004, 0.0009, 0.009, 0.0038, 0.0003, 0.009, 0.0038, 0.00016, 0.009, 0.0039,
  0.00014, 0.0092, 0.004, 0.0004, 0.0095, 0.0042, 0.00056, 0.01, 0.0045, 0.0008,
  0.0105, 0.0048, 0.0009, 0.011, 0.005, 0.00085, 0.012, 0.0055, 0.0011, 0.016,
  0.03, 0.05, 0.08,
];
const F_PURPLE_ERR = [
  0, 0, 0, 0, 0, 0, 0, 0, 0, 0,
  0, 0, 0, 0, 0, 0, 0, 0, 0, 0,
  0, 0, 0, 0, 0.2, 0.3, 0.45, 0.6, 0.7, 0.8,
  0.9, 0.95, 1.0, 1.05, 1.05, 1.1, 1.1, 0.9, 0.6, 1.1,
  0.9, 0.6, 1.1, 0.9, 0.6, 1.1, 0.9, 0.6, 1.1, 0.9,
  0.6, 1.1, 0.9, 0.6, 1.1, 0.9, 0.6, 1.1, 0.9, 0.6,
  1.1, 0.9, 0.6, 1.1, 0.9, 0.6, 1.1, 0.9, 0.6, 0.8,
  0.6, 0.5, 0.5,
];
const F_PURPLE_NV = [
  0.0259, 0.0224, 0.0197, 0.0175, 0.0157, 0.0142, 0.0128, 0.0116, 0.0104, 0.0068,
  0.0017, 0.0066, 0.0012, 0.0064, 0.0006, 0.0063, 0.0014, 0.0063, 0.0003, 0.0064,
  0.0011, 0.0065, 0.0005, 0.0067, 0.0013, 0.007, 0.0007, 0.0073, 0.0015, 0.0077,
  0.0009, 0.0082, 0.0016, 0.0088, 0.001, 0.0095, 0.0018, 0.0105, 0.0013, 0.0125,
  0.0025, 0.018, 0.006, 0.035, 0.065,
];
const F_PURPLE_NE = [
  0.8, 0.88, 0.95, 1.0, 1.05, 1.05, 1.1, 1.1, 1.1, 1.1,
  0.6, 0.85, 0.6, 1.1, 0.6, 0.85, 0.6, 1.1, 0.6, 0.85,
  0.6, 1.1, 0.6, 0.85, 0.6, 1.1, 0.6, 0.85, 0.6, 1.1,
  0.6, 0.85, 0.6, 1.1, 0.6, 0.85, 0.6, 1.1, 0.6, 0.85,
  0.6, 0.7, 0.7, 0.5, 0.5,
];
const F_GRAY_LO = [213, 126, 80, 53, 36, 26, 18.6, 14, 11, 8.0];
const F_GRAY_HI = [
  6.3, 5.4, 4.6, 3.9, 3.3, 2.8, 2.38, 2.02, 1.7, 1.42,
  1.18, 0.98, 0.82, 0.68, 0.57, 0.47, 0.385, 0.315, 0.255, 0.208,
  0.17, 0.138, 0.113, 0.093, 0.077, 0.064, 0.054, 0.046, 0.04, 0.035,
  0.031, 0.028, 0.025, 0.023, 0.021, 0.0195, 0.017, 0.007, 0.0012, 0.016,
  0.0065, 0.0008, 0.015, 0.006, 0.0022, 0.0145, 0.006, 0.0006, 0.0145, 0.006,
  0.0012, 0.015, 0.0062, 0.0018, 0.0152, 0.0065, 0.0013, 0.016, 0.007, 0.0025,
  0.017, 0.0075, 0.0015, 0.019, 0.0085, 0.0025, 0.022, 0.011, 0.006, 0.03,
  0.045, 0.08, 0.2,
];
const F_GRAY_ERR = [
  0, 0, 0, 0, 0, 0, 0, 0, 0, 0,
  0, 0, 0, 0, 0, 0, 0, 0, 0, 0,
  0, 0, 0, 0, 0, 0, 0.25, 0.35, 0.45, 0.55,
  0.6, 0.65, 0.7, 0.75, 0.8, 0.8, 0.6, 0.85, 0.6, 0.6,
  0.85, 0.6, 0.6, 0.85, 0.6, 0.6, 0.85, 0.6, 0.6, 0.85,
  0.6, 0.6, 0.85, 0.6, 0.6, 0.85, 0.6, 0.6, 0.85, 0.6,
  0.6, 0.85, 0.6, 0.6, 0.85, 0.6, 0.6, 0.85, 0.6, 0.5,
  0.4, 0.35, 0.3,
];
const F_GRAY_NV = [
  0.0429, 0.0374, 0.0329, 0.0295, 0.0265, 0.024, 0.022, 0.0202, 0.0182, 0.0115,
  0.0032, 0.011, 0.003, 0.0106, 0.0028, 0.0104, 0.0026, 0.0102, 0.0025, 0.0102,
  0.0024, 0.0103, 0.0024, 0.0105, 0.0025, 0.0108, 0.0026, 0.0112, 0.0027, 0.0117,
  0.0028, 0.0123, 0.003, 0.013, 0.0032, 0.014, 0.0035, 0.0155, 0.004, 0.019,
  0.0055, 0.027, 0.011, 0.045, 0.12,
];
const F_GRAY_NE = [
  0.3, 0.4, 0.5, 0.55, 0.6, 0.65, 0.7, 0.75, 0.8, 0.7,
  0.75, 0.7, 0.75, 0.7, 0.75, 0.7, 0.75, 0.7, 0.75, 0.7,
  0.75, 0.7, 0.75, 0.7, 0.75, 0.7, 0.75, 0.7, 0.75, 0.7,
  0.75, 0.7, 0.75, 0.7, 0.75, 0.7, 0.75, 0.7, 0.75, 0.7,
  0.75, 0.6, 0.6, 0.45, 0.35,
];
const F_BLACK_LO = [337, 195, 119, 77, 52, 36, 26, 19.5, 15, 10.8];
const F_BLACK_HI = [
  8.6, 7.3, 6.2, 5.2, 4.4, 3.75, 3.15, 2.68, 2.25, 1.87,
  1.55, 1.28, 1.06, 0.88, 0.73, 0.6, 0.49, 0.4, 0.32, 0.26,
  0.21, 0.17, 0.138, 0.113, 0.094, 0.078, 0.065, 0.055, 0.048, 0.042,
  0.037, 0.033, 0.03, 0.027, 0.025, 0.023, 0.021, 0.009, 0.0025, 0.019,
  0.008, 0.0015, 0.018, 0.0075, 0.0009, 0.017, 0.007, 0.0012, 0.017, 0.007,
  0.0004, 0.017, 0.0072, 0.001, 0.0175, 0.0075, 0.0015, 0.018, 0.008, 0.0012,
  0.019, 0.0085, 0.0015, 0.021, 0.0095, 0.003, 0.025, 0.012, 0.008, 0.035,
  0.05, 0.09, 0.28,
];
const F_BLACK_ERR = [
  0, 0, 0, 0, 0, 0, 0, 0, 0, 0,
  0, 0, 0, 0, 0, 0, 0, 0, 0, 0,
  0, 0, 0, 0, 0, 0, 0, 0.2, 0.3, 0.4,
  0.5, 0.55, 0.6, 0.65, 0.7, 0.75, 0.55, 0.9, 0.6, 0.55,
  0.9, 0.6, 0.55, 0.9, 0.6, 0.55, 0.9, 0.6, 0.55, 0.9,
  0.6, 0.55, 0.9, 0.6, 0.55, 0.9, 0.6, 0.55, 0.9, 0.6,
  0.55, 0.9, 0.6, 0.55, 0.9, 0.6, 0.55, 0.9, 0.6, 0.5,
  0.45, 0.4, 0.25,
];
const F_BLACK_NV = [
  0.0514, 0.0449, 0.0394, 0.035, 0.0315, 0.0285, 0.026, 0.024, 0.022, 0.0135,
  0.0038, 0.013, 0.0034, 0.0125, 0.0032, 0.0122, 0.003, 0.012, 0.0028, 0.012,
  0.0027, 0.0121, 0.0027, 0.0123, 0.0028, 0.0126, 0.0029, 0.013, 0.003, 0.0135,
  0.0031, 0.0142, 0.0033, 0.015, 0.0035, 0.016, 0.0038, 0.0175, 0.0045, 0.021,
  0.006, 0.03, 0.012, 0.05, 0.14,
];
const F_BLACK_NE = [
  0.25, 0.35, 0.45, 0.5, 0.55, 0.6, 0.65, 0.7, 0.75, 0.95,
  0.75, 0.95, 0.75, 0.95, 0.75, 0.95, 0.75, 0.95, 0.75, 0.95,
  0.75, 0.95, 0.75, 0.95, 0.75, 0.95, 0.75, 0.65, 0.75, 0.65,
  0.75, 0.65, 0.75, 0.65, 0.75, 0.65, 0.75, 0.65, 0.75, 0.65,
  0.75, 0.6, 0.6, 0.45, 0.35,
];

// ---------- Axes / labels ----------
const Y_TICKS = [1e3, 1e2, 1e1, 1e0, 1e-1, 1e-2, 1e-3, 1e-4];
const Y_TICK_LABELS = ["1e+3", "1e+2", "1e+1", "1e+0", "1e-1", "1e-2", "1e-3", "1e-4"];
const X_TICKS = [0.001, 0.01, 0.1, 1];
const X_TICK_LABELS = ["0.001", "0.01", "0.1", "1"];
const PANEL_LABELS = ["(a)", "(b)", "(c)", "(d)", "(e)", "(f)"];
const X_TITLE = "Scattering factor, Q (A";
const Y_TITLE = "Intensity (cm";
const SUPERSCRIPT = "-1";

// ---------- Styles & layout ----------
const STYLE: Record<string, { fill: string; bar: string }> = {
  purple: { fill: "#7d1a7f", bar: "#8e3a90" },
  gray: { fill: "#878787", bar: "#a0a0a0" },
  black: { fill: "#000000", bar: "#111111" },
};

const NONE: number[] = [];
const PANEL_SERIES = [
  [
    { q: Q_PURPLE_A, lo: NONE, hi: A_PURPLE, err: A_PURPLE_ERR, nv: NONE, ne: NONE, kind: "purple" },
    { q: Q_STD, lo: A_GRAY_LO, hi: A_GRAY_HI, err: A_GRAY_ERR, nv: A_GRAY_NV, ne: A_GRAY_NE, kind: "gray" },
    { q: Q_STD, lo: A_BLACK_LO, hi: A_BLACK_HI, err: A_BLACK_ERR, nv: A_BLACK_NV, ne: A_BLACK_NE, kind: "black" },
  ],
  [
    { q: Q_STD, lo: B_PURPLE_LO, hi: B_PURPLE_HI, err: B_PURPLE_ERR, nv: B_PURPLE_NV, ne: B_PURPLE_NE, kind: "purple" },
    { q: Q_STD, lo: B_GRAY_LO, hi: B_GRAY_HI, err: B_GRAY_ERR, nv: B_GRAY_NV, ne: B_GRAY_NE, kind: "gray" },
    { q: Q_STD, lo: B_BLACK_LO, hi: B_BLACK_HI, err: B_BLACK_ERR, nv: B_BLACK_NV, ne: B_BLACK_NE, kind: "black" },
  ],
  [
    { q: Q_STD, lo: C_PURPLE_LO, hi: C_PURPLE_HI, err: C_PURPLE_ERR, nv: C_PURPLE_NV, ne: C_PURPLE_NE, kind: "purple" },
    { q: Q_STD, lo: C_GRAY_LO, hi: C_GRAY_HI, err: C_GRAY_ERR, nv: C_GRAY_NV, ne: C_GRAY_NE, kind: "gray" },
    { q: Q_STD, lo: C_BLACK_LO, hi: C_BLACK_HI, err: C_BLACK_ERR, nv: C_BLACK_NV, ne: C_BLACK_NE, kind: "black" },
  ],
  [
    { q: Q_SHIFT, lo: D_PURPLE_LO, hi: D_PURPLE_HI, err: D_PURPLE_ERR, nv: D_PURPLE_NV, ne: D_PURPLE_NE, kind: "purple" },
    { q: Q_STD, lo: D_GRAY_LO, hi: D_GRAY_HI, err: D_GRAY_ERR, nv: D_GRAY_NV, ne: D_GRAY_NE, kind: "gray" },
    { q: Q_STD, lo: D_BLACK_LO, hi: D_BLACK_HI, err: D_BLACK_ERR, nv: D_BLACK_NV, ne: D_BLACK_NE, kind: "black" },
  ],
  [
    { q: Q_SHIFT, lo: E_PURPLE_LO, hi: E_PURPLE_HI, err: E_PURPLE_ERR, nv: E_PURPLE_NV, ne: E_PURPLE_NE, kind: "purple" },
    { q: Q_SHIFT, lo: E_GRAY_LO, hi: E_GRAY_HI, err: E_GRAY_ERR, nv: E_GRAY_NV, ne: E_GRAY_NE, kind: "gray" },
    { q: Q_SHIFT, lo: E_BLACK_LO, hi: E_BLACK_HI, err: E_BLACK_ERR, nv: E_BLACK_NV, ne: E_BLACK_NE, kind: "black" },
  ],
  [
    { q: Q_SHIFT, lo: F_PURPLE_LO, hi: F_PURPLE_HI, err: F_PURPLE_ERR, nv: F_PURPLE_NV, ne: F_PURPLE_NE, kind: "purple" },
    { q: Q_SHIFT, lo: F_GRAY_LO, hi: F_GRAY_HI, err: F_GRAY_ERR, nv: F_GRAY_NV, ne: F_GRAY_NE, kind: "gray" },
    { q: Q_SHIFT, lo: F_BLACK_LO, hi: F_BLACK_HI, err: F_BLACK_ERR, nv: F_BLACK_NV, ne: F_BLACK_NE, kind: "black" },
  ],
];

const LAYOUT = [
  { left: 135, right: 479.5, top: 67.5, bottom: 314.3, lx: 15, ly: 45 },
  { left: 651.7, right: 995.7, top: 67.5, bottom: 314.3, lx: 538, ly: 45 },
  { left: 128, right: 473, top: 447.3, bottom: 695.3, lx: 25, ly: 427 },
  { left: 651.7, right: 995.7, top: 447.3, bottom: 695.3, lx: 538, ly: 427 },
  { left: 135, right: 479.5, top: 829.4, bottom: 1076.3, lx: 15, ly: 806 },
  { left: 651.7, right: 995.7, top: 829.4, bottom: 1076.3, lx: 540, ly: 806 },
];

const FONT = "'Liberation Sans', Arial, Helvetica, sans-serif";
const R = 3.4;
const CAP = 3.5;

type Pt = { q: number; v: number; rel: number };

function Panel({ idx }: { idx: number }) {
  const L = LAYOUT[idx];
  const x = d3.scaleLog().domain([1e-3, 1]).range([L.left, L.right]);
  const y = d3.scaleLog().domain([1e-4, 1e3]).range([L.bottom, L.top]);
  const [yMin, yMax] = y.domain();
  const cx = (L.left + L.right) / 2;
  const cy = (L.top + L.bottom) / 2;

  const layers: React.ReactNode[] = [];
  PANEL_SERIES[idx].forEach((s, si) => {
    const st = STYLE[s.kind];
    const pts: Pt[] = [];
    const values = s.lo.concat(s.hi);
    const n = Math.min(s.q.length, values.length);
    for (let i = 0; i < n; i++) {
      const rel = i < s.lo.length ? 0 : s.err[i - s.lo.length] || 0;
      pts.push({ q: s.q[i], v: values[i], rel });
    }
    const m = Math.min(Q_NOISE.length, s.nv.length);
    for (let j = 0; j < m; j++) pts.push({ q: Q_NOISE[j], v: s.nv[j], rel: s.ne[j] || 0 });

    let barPath = "";
    const dots: React.ReactNode[] = [];
    pts.forEach((p, k) => {
      const px = x(p.q);
      const py = y(p.v);
      const sig = p.v * p.rel;
      if (sig > 0) {
        const hi = Math.min(p.v + sig, yMax);
        const lo = p.v - sig;
        const yHi = y(hi);
        const loInside = lo > yMin;
        const yLo = loInside ? y(lo) : L.bottom;
        if (py - yHi > R - 0.5 || yLo - py > R - 0.5) {
          barPath += `M${px.toFixed(2)},${yHi.toFixed(2)}V${yLo.toFixed(2)}`;
          barPath += `M${(px - CAP).toFixed(2)},${yHi.toFixed(2)}H${(px + CAP).toFixed(2)}`;
          if (loInside) barPath += `M${(px - CAP).toFixed(2)},${yLo.toFixed(2)}H${(px + CAP).toFixed(2)}`;
        }
      }
      dots.push(<circle key={k} cx={px} cy={py} r={R} fill={st.fill} />);
    });
    layers.push(
      <g key={si}>
        <path d={barPath} stroke={st.bar} strokeWidth={1} fill="none" />
        {dots}
      </g>
    );
  });

  const frameColor = "#8a8a8a";
  return (
    <g>
      <rect x={L.left} y={L.top} width={L.right - L.left} height={L.bottom - L.top} fill="none" stroke={frameColor} strokeWidth={1.2} />
      {Y_TICKS.map((t, i) => (
        <line key={"yt" + i} x1={L.left - 5} x2={L.left} y1={y(t)} y2={y(t)} stroke={frameColor} strokeWidth={1.2} />
      ))}
      {X_TICKS.map((t, i) => (
        <line key={"xt" + i} x1={x(t)} x2={x(t)} y1={L.bottom} y2={L.bottom + 5} stroke={frameColor} strokeWidth={1.2} />
      ))}
      {layers}
      {Y_TICKS.map((t, i) => (
        <text key={"yl" + i} x={L.left - 18} y={y(t) + 9} textAnchor="end" fontFamily={FONT} fontSize={25} fill="#000">
          {Y_TICK_LABELS[i]}
        </text>
      ))}
      {X_TICKS.map((t, i) => (
        <text key={"xl" + i} x={x(t)} y={L.bottom + 40} textAnchor="middle" fontFamily={FONT} fontSize={25} fill="#000">
          {X_TICK_LABELS[i]}
        </text>
      ))}
      <text x={cx} y={L.bottom + 83} textAnchor="middle" fontFamily={FONT} fontSize={26} fontWeight="bold" fill="#000"
        textLength={365} lengthAdjust="spacingAndGlyphs">
        {X_TITLE}
        <tspan fontSize={19} dy={-10}>{SUPERSCRIPT}</tspan>
        <tspan dy={10}>)</tspan>
      </text>
      <text transform={`translate(${L.left - 93},${cy}) rotate(-90)`} x={0} y={0} textAnchor="middle" fontFamily={FONT}
        fontSize={26} fontWeight="bold" fill="#000" textLength={226} lengthAdjust="spacingAndGlyphs">
        {Y_TITLE}
        <tspan fontSize={19} dy={-10}>{SUPERSCRIPT}</tspan>
        <tspan dy={10}>)</tspan>
      </text>
      <text x={L.lx} y={L.ly} fontFamily={FONT} fontSize={30} fill="#000">
        {PANEL_LABELS[idx]}
      </text>
    </g>
  );
}

export default function App() {
  return (
    <svg width={1010} height={1171} viewBox="0 0 1010 1171"
      style={{ position: "absolute", left: 0, top: 0, background: "#ffffff", display: "block" }}>
      <rect x={0} y={0} width={1010} height={1171} fill="#ffffff" />
      {LAYOUT.map((_, i) => (
        <Panel key={i} idx={i} />
      ))}
    </svg>
  );
}
